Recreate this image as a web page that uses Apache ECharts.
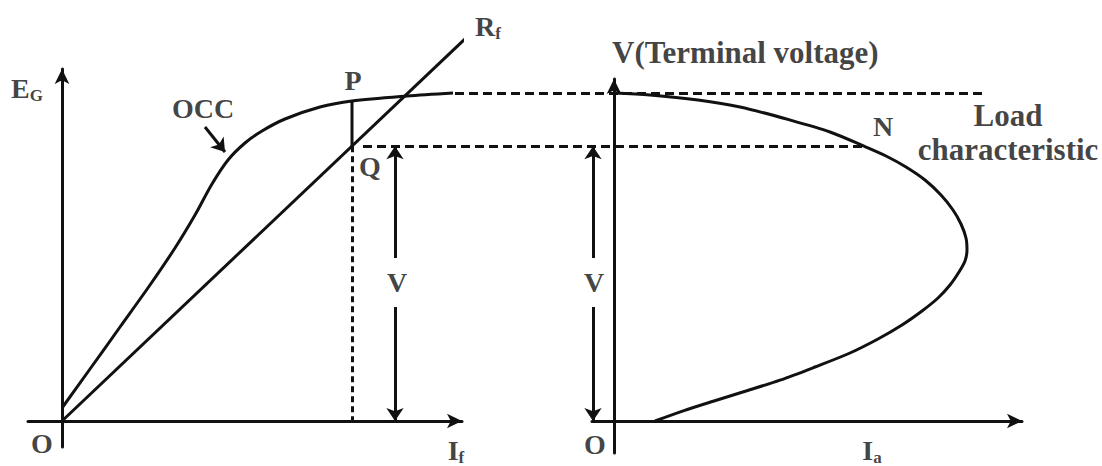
<!DOCTYPE html>
<html>
<head>
<meta charset="utf-8">
<title>Shunt generator - load characteristic</title>
<script src="https://cdn.jsdelivr.net/npm/echarts@6/dist/echarts.min.js"></script>
<style>
    html, body { margin: 0; padding: 0; background: #fff; }
    #main { width: 1102px; height: 466px; }
</style>
</head>
<body>
<div id="main"></div>
<script type="text/javascript">
    // left panel: E_G against I_f (arbitrary units)
    var occPoints = [[0, 0.325], [0.7, 1.3], [1.45, 2.35], [2.2, 3.4], [2.825, 4.325], [3.325, 5.15],
        [3.75, 5.925], [4.15, 6.525], [4.575, 6.95], [5.0, 7.25], [5.575, 7.55], [6.45, 7.85],
        [7.25, 8.0], [8.625, 8.125], [9.775, 8.2]];
    var rfLine = [[0, 0], [10.125, 9.6]];
    var pPoint = [7.25, 8.0];     // P on the OCC
    var qPoint = [7.25, 6.87];    // Q on the R_f line
    var noLoadV = 8.2;            // level of the upper dashed line
    var upperDashX = [9.825, 23.125];
    var lowerDashX = [7.525, 20.05];
    var occPointer = [[3.575, 7.35], [4.075, 6.725]];

    // right panel: V against I_a
    var loadPoints = [[0, 8.2], [0.9, 8.15], [2.1, 8.025], [3.15, 7.85], [4.4, 7.525], [5.4, 7.225],
        [6.25, 6.87], [6.8, 6.625], [7.3, 6.35], [7.775, 6.025], [8.175, 5.65], [8.475, 5.275],
        [8.675, 4.925], [8.8, 4.575], [8.825, 4.275], [8.775, 4.0], [8.625, 3.725], [8.4, 3.4],
        [8.1, 3.075], [7.7, 2.75], [7.2, 2.4], [6.6, 2.05], [5.9, 1.7], [5.025, 1.35], [4.15, 1.02],
        [3.3, 0.75], [2.5, 0.5], [1.75, 0.26], [1.025, 0]];
    var nPoint = [6.25, 6.87];

    // the two "V" arrows: x position, gap around the letter
    var vArrowX = [8.325, -0.525];
    var vGap = [2.85, 4.075];
    var vLabelY = 3.475;

    var font = 'Liberation Serif';
    var ink = '#111';
    var rich = {
        b: { fontFamily: font, fontWeight: 'bold', fontSize: 28, color: ink, lineHeight: 28, verticalAlign: 'top' },
        s: { fontFamily: font, fontWeight: 'bold', fontSize: 17, color: ink, lineHeight: 17, padding: [13, 0, 0, 0], verticalAlign: 'top' }
    };

    function axis(grid, min, max) {
        return {
            type: 'value', gridIndex: grid, min: min, max: max,
            axisLine: { show: true, onZero: true, symbol: ['none', 'arrow'], symbolSize: [11, 15],
                lineStyle: { color: ink, width: 3 } },
            axisTick: { show: false }, axisLabel: { show: false }, splitLine: { show: false }
        };
    }

    function curve(grid, pts, extra) {
        var s = {
            type: 'line', xAxisIndex: grid, yAxisIndex: grid, data: pts,
            showSymbol: false, symbol: 'none', clip: false, silent: true,
            lineStyle: { color: ink, width: 3 }
        };
        for (var k in extra) s[k] = extra[k];
        return s;
    }

    function segments(grid, segs, head, dash) {
        return {
            type: 'lines', coordinateSystem: 'cartesian2d', xAxisIndex: grid, yAxisIndex: grid,
            symbol: ['none', head], symbolSize: 13, silent: true, clip: false,
            lineStyle: { color: ink, width: 3, opacity: 1, curveness: 0, type: dash || 'solid' },
            data: segs.map(function (c) { return { coords: c }; })
        };
    }

    function tags(grid, items) {
        return {
            type: 'scatter', xAxisIndex: grid, yAxisIndex: grid, symbolSize: 0, clip: false, silent: true,
            label: { show: true, position: 'inside', fontFamily: font, fontWeight: 'bold', fontSize: 28, color: ink, rich: rich },
            data: items
        };
    }

    var myChart = echarts.init(document.getElementById('main'), null, { renderer: 'svg' });

    var option = {
        animation: false,
        backgroundColor: '#fff',
        grid: [
            { left: 28, right: 640, top: 69, bottom: 19, outerBoundsMode: 'none' },
            { left: 592, right: 80, top: 79, bottom: 13, outerBoundsMode: 'none' }
        ],
        xAxis: [axis(0, -0.85, 10), axis(1, -0.55, 10.2)],
        yAxis: [axis(0, -0.65, 8.8), axis(1, -0.8, 8.55)],
        series: [
            curve(0, occPoints, { smooth: 0.3 }),
            curve(0, rfLine),
            curve(0, [pPoint, qPoint]),
            curve(1, loadPoints, { smooth: 0.3 }),
            segments(0, [[qPoint, [qPoint[0], 0]]], 'none', [6, 4]),
            segments(0, [
                [[upperDashX[0], noLoadV], [upperDashX[1], noLoadV]],
                [[lowerDashX[0], qPoint[1]], [lowerDashX[1], qPoint[1]]]
            ], 'none', [9, 5]),
            segments(0, [
                occPointer,
                [[vArrowX[0], vGap[1]], [vArrowX[0], qPoint[1]]],
                [[vArrowX[0], vGap[0]], [vArrowX[0], 0]]
            ], 'arrow'),
            segments(1, [
                [[vArrowX[1], vGap[1]], [vArrowX[1], nPoint[1]]],
                [[vArrowX[1], vGap[0]], [vArrowX[1], 0]]
            ], 'arrow'),
            tags(0, [
                { value: [0, 0], label: { formatter: 'O', offset: [-20, 22] } },
                { value: [10, 0], label: { formatter: '{b|I}{s|f}', offset: [-6, 29] } },
                { value: [0, 8.8], label: { formatter: '{b|E}{s|G}', offset: [-35, 19] } },
                { value: occPointer[0], label: { formatter: 'OCC', offset: [-2, -19] } },
                { value: pPoint, label: { formatter: 'P', offset: [1, -21] } },
                { value: qPoint, label: { formatter: 'Q', offset: [18, 20] } },
                { value: rfLine[1], label: { formatter: '{b|R}{s|f}', offset: [21, -11] } },
                { value: [vArrowX[0], vLabelY], label: { formatter: 'V', offset: [2, 0] } }
            ]),
            tags(1, [
                { value: [0, 0], label: { formatter: 'O', offset: [-19, 23] } },
                { value: [6.4, 0], label: { formatter: '{b|I}{s|a}', offset: [2, 29] } },
                { value: [0, 8.55], label: { formatter: 'V(Terminal voltage)', position: 'right', distance: 0, offset: [-2, -27], fontSize: 31 } },
                { value: nPoint, label: { formatter: 'N', offset: [19, -20] } },
                { value: nPoint, label: { formatter: 'Load\ncharacteristic', offset: [144, -14], fontSize: 31, lineHeight: 34, align: 'center' } },
                { value: [vArrowX[1], vLabelY], label: { formatter: 'V', offset: [1, 0] } }
            ])
        ]
    };
    myChart.setOption(option);
    window.onresize = myChart.resize;
</script>
</body>
</html>
